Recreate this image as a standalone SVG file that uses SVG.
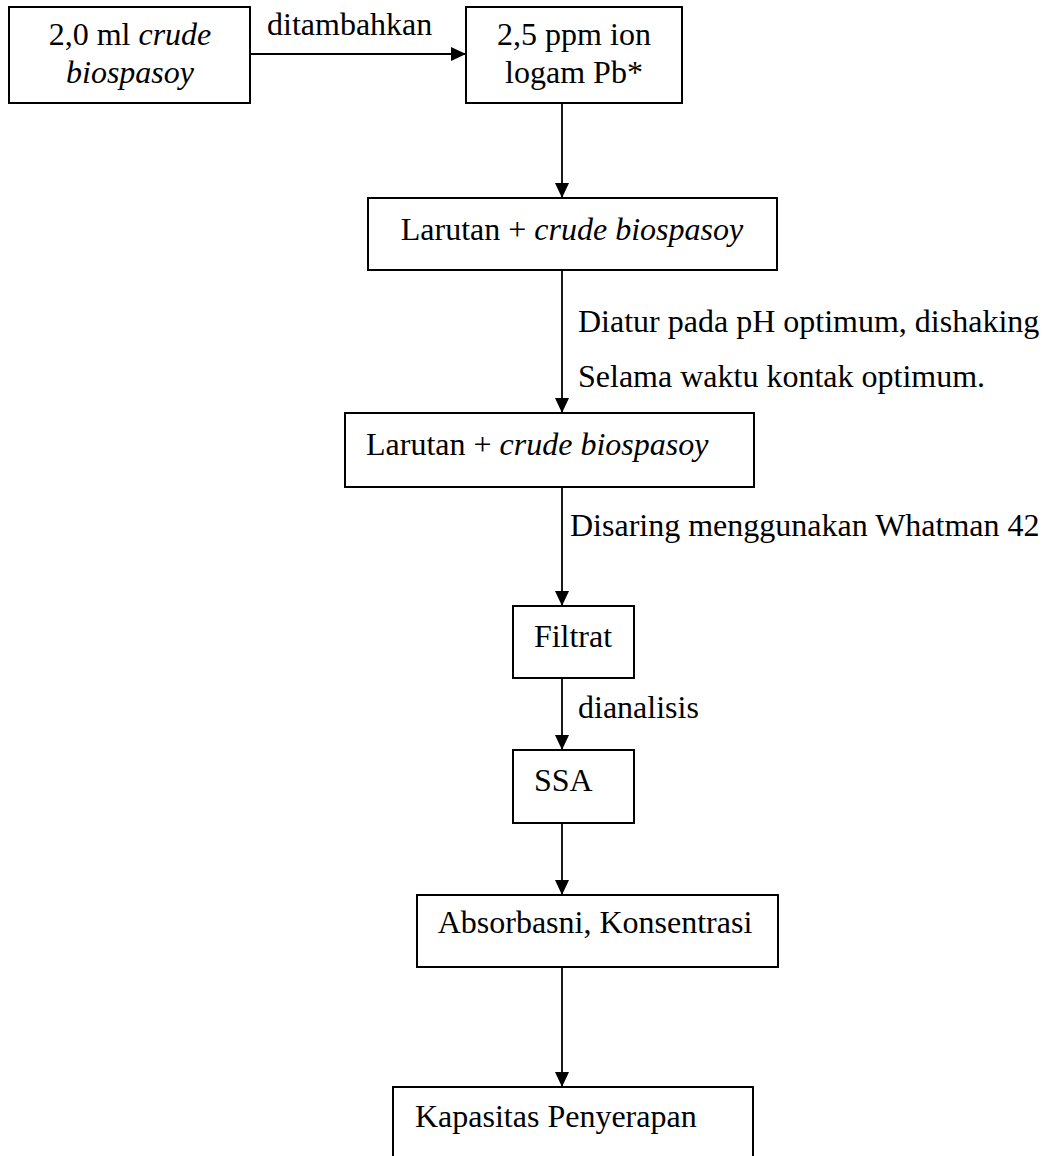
<svg xmlns="http://www.w3.org/2000/svg" width="1050" height="1156" viewBox="0 0 1050 1156">
<style>
.box{fill:#fff;stroke:#000;stroke-width:2}
.t{font-family:"Liberation Serif","Times New Roman",Tinos,serif;font-size:32px;fill:#000}
.i{font-style:italic}
.c{text-anchor:middle}
.ln{stroke:#000;stroke-width:1.8;fill:none}
</style>
<defs>
<marker id="ah" markerUnits="userSpaceOnUse" markerWidth="15" markerHeight="14" refX="15" refY="7" orient="auto">
<path d="M0,0 L15,7 L0,14 z" fill="#000"/>
</marker>
</defs>
<rect width="1050" height="1156" fill="#fff"/>
<g id="connectors">
<line class="ln" x1="250" y1="54" x2="466" y2="54" marker-end="url(#ah)"/>
<line class="ln" x1="562" y1="103" x2="562" y2="198" marker-end="url(#ah)"/>
<line class="ln" x1="562" y1="270" x2="562" y2="413" marker-end="url(#ah)"/>
<line class="ln" x1="562" y1="487" x2="562" y2="606" marker-end="url(#ah)"/>
<line class="ln" x1="562" y1="678" x2="562" y2="750" marker-end="url(#ah)"/>
<line class="ln" x1="562" y1="823" x2="562" y2="895" marker-end="url(#ah)"/>
<line class="ln" x1="562" y1="967" x2="562" y2="1087" marker-end="url(#ah)"/>
<text class="t" x="267" y="35">ditambahkan</text>
<text class="t" x="578" y="332">Diatur pada pH optimum, dishaking</text>
<text class="t" x="578" y="387">Selama waktu kontak optimum.</text>
<text class="t" x="570" y="536">Disaring menggunakan Whatman 42</text>
<text class="t" x="578" y="718">dianalisis</text>
</g>
<g id="n1">
<rect class="box" x="9" y="7" width="241" height="96"/>
<text class="t c" x="130" y="45">2,0 ml <tspan class="i">crude</tspan></text>
<text class="t c i" x="130" y="83">biospasoy</text>
</g>
<g id="n2">
<rect class="box" x="466" y="7" width="216" height="96"/>
<text class="t c" x="574" y="45">2,5 ppm ion</text>
<text class="t c" x="574" y="83">logam Pb*</text>
</g>
<g id="n3">
<rect class="box" x="368" y="198" width="409" height="72"/>
<text class="t c" x="572" y="240">Larutan + <tspan class="i">crude biospasoy</tspan></text>
</g>
<g id="n4">
<rect class="box" x="345" y="413" width="409" height="74"/>
<text class="t" x="366" y="455">Larutan + <tspan class="i">crude biospasoy</tspan></text>
</g>
<g id="n5">
<rect class="box" x="513" y="606" width="121" height="72"/>
<text class="t c" x="573" y="647">Filtrat</text>
</g>
<g id="n6">
<rect class="box" x="513" y="750" width="121" height="73"/>
<text class="t" x="534" y="791">SSA</text>
</g>
<g id="n7">
<rect class="box" x="417" y="895" width="361" height="72"/>
<text class="t c" x="595" y="933">Absorbasni, Konsentrasi</text>
</g>
<g id="n8">
<rect class="box" x="393" y="1087" width="360" height="90"/>
<text class="t" x="415" y="1127">Kapasitas Penyerapan</text>
</g>
</svg>
